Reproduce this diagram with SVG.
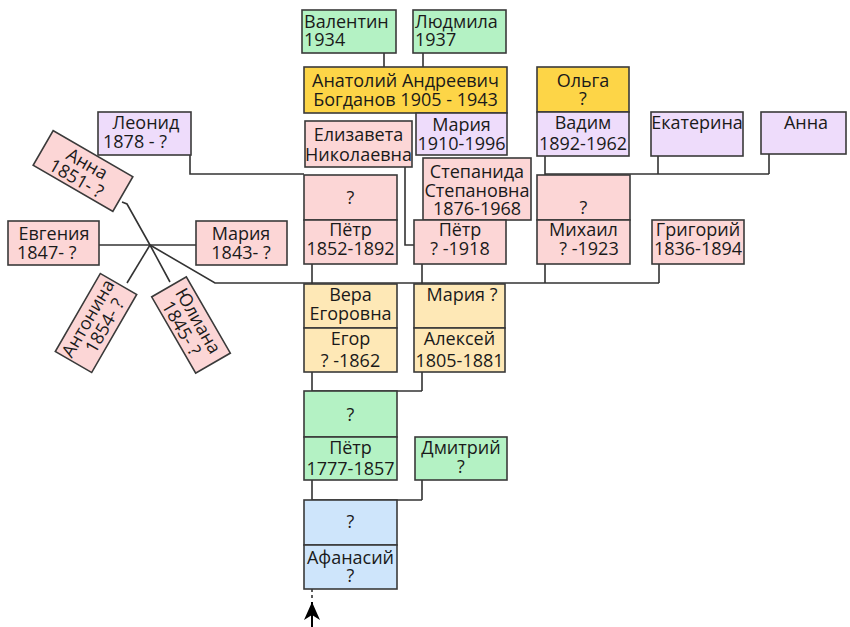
<svg xmlns="http://www.w3.org/2000/svg" width="850" height="627" viewBox="0 0 850 627">
<style>
text{font-family:"Open Sans","Noto Sans","DejaVu Sans",sans-serif;font-size:18px;fill:#1a1a1a}
.c{text-anchor:middle}
g>rect{stroke:#3a3a3a;stroke-width:1.6}
.g{fill:#b4f2c4}.y{fill:#fdd547}.l{fill:#eedcfb}.p{fill:#fcd6d6}.o{fill:#fee8b6}.b{fill:#cee5fb}
#connectors path{fill:none;stroke:#333;stroke-width:1.6}
</style>
<defs>
<marker id="ah" markerWidth="18" markerHeight="16" refX="18" refY="8" orient="auto" markerUnits="userSpaceOnUse" viewBox="0 0 18 16">
<path d="M0,0 L18,8 L0,16 L5,8 Z" fill="#000"/>
</marker>
</defs>
<rect width="850" height="627" fill="#fff"/>
<g id="connectors">
<path d="M384,53V67M423,53V67"/>
<path d="M190,155V174H304"/>
<path d="M405,167V245H414"/>
<path d="M545,156V175M658,156V174M769,154V174M545,174H769"/>
<path d="M99,245H196"/>
<path d="M122,202L127,204L150,245L170,282"/>
<path d="M150,245L127,283"/>
<path d="M150,245L215,283H659"/>
<path d="M312,264V284M422,264V284M545,264V283M659,264V283"/>
<path d="M312,372V391M422,372V391M312,391H422"/>
<path d="M312,480V500M422,480V500M312,500H422"/>
<path d="M312,589V600" stroke-dasharray="3,3"/>
<path d="M312,627V602" marker-end="url(#ah)" style="stroke:#000;stroke-width:2"/>
</g>
<g id="valentin"><rect class="g" x="302" y="10" width="94" height="43"/><text x="304" y="28">Валентин</text><text x="304" y="46">1934</text></g>
<g id="lyudmila"><rect class="g" x="413" y="10" width="93" height="43"/><text x="415" y="28">Людмила</text><text x="415" y="46">1937</text></g>
<g id="anatoly"><rect class="y" x="304" y="67" width="203" height="46"/><text class="c" x="405.5" y="87">Анатолий Андреевич</text><text class="c" x="405.5" y="106">Богданов 1905 - 1943</text></g>
<g id="mariya1910"><rect class="l" x="416" y="113" width="91" height="42"/><text class="c" x="461.5" y="131">Мария</text><text class="c" x="461.5" y="150">1910-1996</text></g>
<g id="elizaveta"><rect class="p" x="305" y="121" width="107" height="46"/><text class="c" x="358.5" y="141">Елизавета</text><text class="c" x="358.5" y="161">Николаевна</text></g>
<g id="olga"><rect class="y" x="537" y="67" width="92" height="45"/><text class="c" x="583" y="87">Ольга</text><text class="c" x="583" y="105">?</text></g>
<g id="vadim"><rect class="l" x="537" y="112" width="92" height="44"/><text class="c" x="583" y="129">Вадим</text><text class="c" x="583" y="150">1892-1962</text></g>
<g id="ekaterina"><rect class="l" x="651" y="112" width="92" height="44"/><text class="c" x="697" y="129">Екатерина</text></g>
<g id="anna-right"><rect class="l" x="761" y="112" width="85" height="42"/><text class="c" x="806" y="129">Анна</text></g>
<g id="leonid"><rect class="l" x="98" y="112" width="93" height="43"/><text class="c" x="146" y="129">Леонид</text><text x="103" y="148">1878 - ?</text></g>
<g id="anna-left" transform="translate(83,171) rotate(30)"><rect class="p" x="-46" y="-20" width="92" height="40"/><text class="c" x="0" y="-2">Анна</text><text class="c" x="-2" y="16">1851- ?</text></g>
<g id="evgeniya"><rect class="p" x="8" y="221" width="91" height="44"/><text class="c" x="54" y="240">Евгения</text><text x="17" y="259">1847- ?</text></g>
<g id="mariya1843"><rect class="p" x="196" y="221" width="91" height="44"/><text class="c" x="241" y="240">Мария</text><text class="c" x="241" y="259">1843- ?</text></g>
<g id="antonina" transform="translate(96,323) rotate(-60)"><rect class="p" x="-45" y="-21" width="90" height="42"/><text class="c" x="0" y="-3">Антонина</text><text class="c" x="2" y="15">1854- ?</text></g>
<g id="yuliana" transform="translate(191,325) rotate(60)"><rect class="p" x="-44" y="-20" width="88" height="40"/><text class="c" x="0" y="-2">Юлиана</text><text class="c" x="-2" y="16">1845- ?</text></g>
<g id="wife-petr1852"><rect class="p" x="304" y="175" width="93" height="45"/><text class="c" x="350.5" y="204">?</text></g>
<g id="petr1852"><rect class="p" x="304" y="220" width="93" height="44"/><text class="c" x="350.5" y="236">Пётр</text><text class="c" x="350.5" y="255">1852-1892</text></g>
<g id="stepanida"><rect class="p" x="423" y="158" width="108" height="62"/><text class="c" x="477" y="178">Степанида</text><text class="c" x="477" y="197">Степановна</text><text class="c" x="477" y="215">1876-1968</text></g>
<g id="petr1918"><rect class="p" x="414" y="220" width="92" height="44"/><text class="c" x="460" y="236">Пётр</text><text class="c" x="460" y="255">? -1918</text></g>
<g id="wife-mikhail"><rect class="p" x="537" y="175" width="93" height="45"/><text class="c" x="583.5" y="214">?</text></g>
<g id="mikhail"><rect class="p" x="537" y="220" width="93" height="44"/><text class="c" x="583.5" y="236">Михаил</text><text class="c" x="589" y="255">? -1923</text></g>
<g id="grigoriy"><rect class="p" x="652" y="220" width="92" height="44"/><text class="c" x="698" y="236">Григорий</text><text class="c" x="698" y="255">1836-1894</text></g>
<g id="vera"><rect class="o" x="304" y="284" width="93" height="44"/><text class="c" x="350.5" y="301">Вера</text><text class="c" x="350.5" y="320">Егоровна</text></g>
<g id="egor"><rect class="o" x="304" y="328" width="93" height="44"/><text class="c" x="350.5" y="345">Егор</text><text class="c" x="350.5" y="367">? -1862</text></g>
<g id="mariya-q"><rect class="o" x="414" y="284" width="91" height="44"/><text class="c" x="462" y="301">Мария ?</text></g>
<g id="aleksey"><rect class="o" x="414" y="328" width="91" height="44"/><text class="c" x="459.5" y="345">Алексей</text><text class="c" x="459.5" y="367">1805-1881</text></g>
<g id="wife-petr1777"><rect class="g" x="304" y="391" width="93" height="46"/><text class="c" x="350.5" y="421">?</text></g>
<g id="petr1777"><rect class="g" x="304" y="437" width="93" height="43"/><text class="c" x="350.5" y="454">Пётр</text><text class="c" x="350.5" y="475">1777-1857</text></g>
<g id="dmitriy"><rect class="g" x="415" y="437" width="92" height="43"/><text class="c" x="461" y="454">Дмитрий</text><text class="c" x="461" y="473">?</text></g>
<g id="wife-afanasiy"><rect class="b" x="304" y="500" width="93" height="45"/><text class="c" x="350.5" y="528">?</text></g>
<g id="afanasiy"><rect class="b" x="304" y="545" width="93" height="44"/><text class="c" x="350.5" y="564">Афанасий</text><text class="c" x="350.5" y="582">?</text></g>
</svg>
